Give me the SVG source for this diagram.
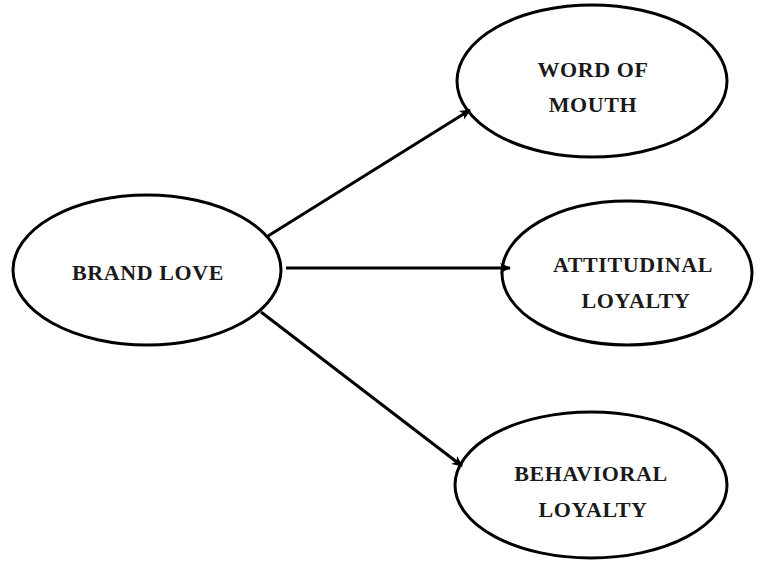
<svg xmlns="http://www.w3.org/2000/svg" width="763" height="562" viewBox="0 0 763 562">
<style>
.node ellipse{fill:#fff;stroke:#000;stroke-width:3}
.node text{font-family:"Liberation Serif","Times New Roman",serif;font-weight:bold;font-size:22px;fill:#1a1a1a;text-anchor:middle;letter-spacing:0.6px}
.edge{stroke:#000;stroke-width:3;fill:none;marker-end:url(#arr)}
</style>
<defs>
<marker id="arr" markerWidth="12" markerHeight="12" refX="10" refY="6" orient="auto" markerUnits="userSpaceOnUse">
<path d="M0,1 L11,6 L0,11 L3,6 Z" fill="#000"/>
</marker>
</defs>
<rect width="763" height="562" fill="#fff"/>
<g id="brand-love" class="node">
<ellipse cx="147" cy="270" rx="134" ry="75"/>
<text x="148" y="280">BRAND LOVE</text>
</g>
<g id="word-of-mouth" class="node">
<ellipse cx="592" cy="81" rx="135" ry="76"/>
<text x="593" y="77">WORD OF</text>
<text x="593" y="112">MOUTH</text>
</g>
<g id="attitudinal-loyalty" class="node">
<ellipse cx="627" cy="273" rx="125" ry="72"/>
<text x="633" y="272">ATTITUDINAL</text>
<text x="636" y="308">LOYALTY</text>
</g>
<g id="behavioral-loyalty" class="node">
<ellipse cx="591" cy="485" rx="136" ry="73"/>
<text x="591" y="481">BEHAVIORAL</text>
<text x="593" y="517">LOYALTY</text>
</g>
<g id="connectors">
<line class="edge" x1="268" y1="236" x2="470" y2="110"/>
<line class="edge" x1="286" y1="268" x2="510" y2="268"/>
<line class="edge" x1="261" y1="312" x2="462" y2="466"/>
</g>
</svg>
